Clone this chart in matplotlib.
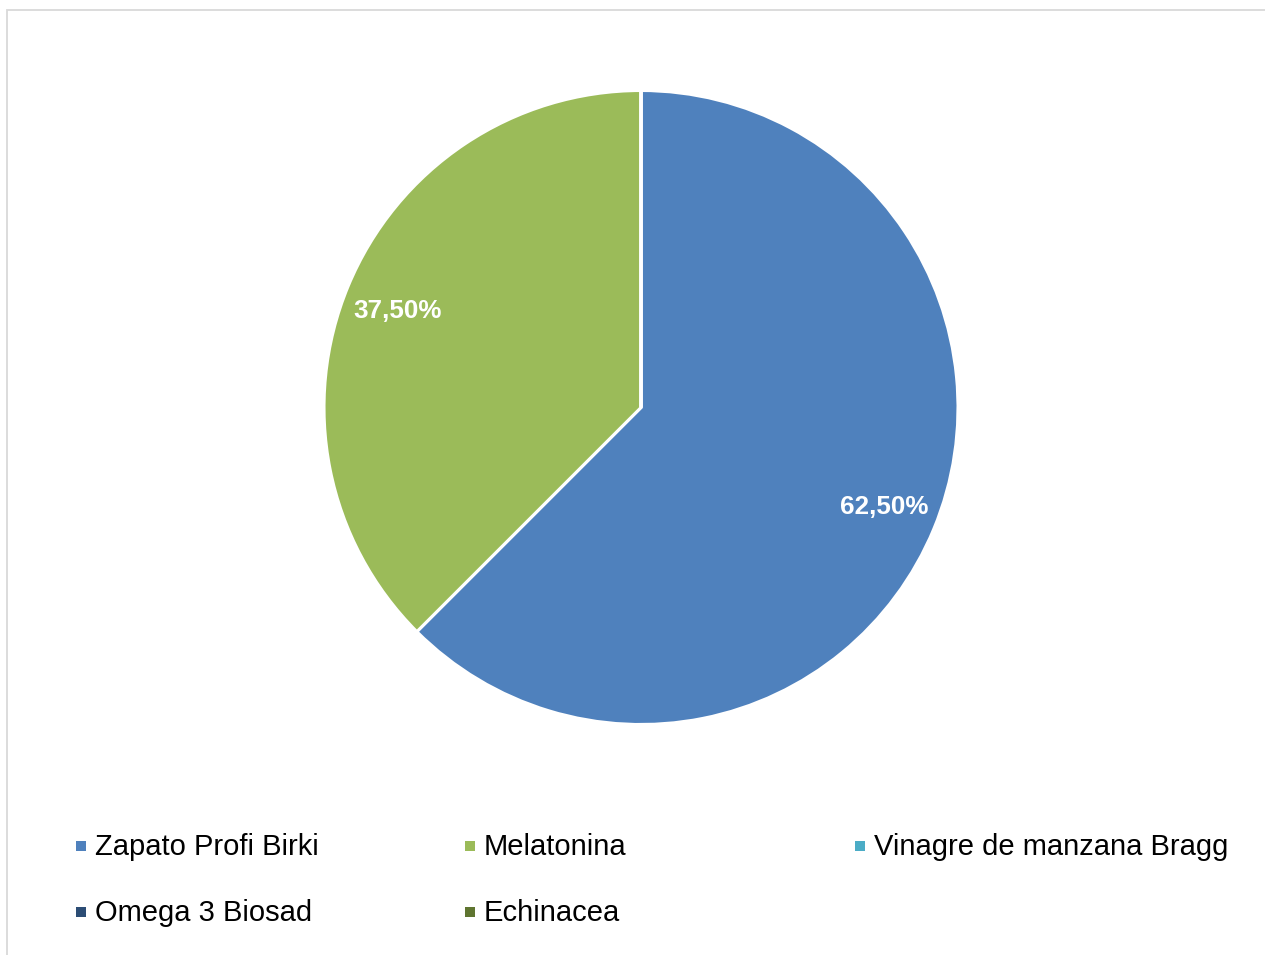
import matplotlib.pyplot as plt
from matplotlib.patches import Rectangle

plt.rcParams['font.family'] = ['Liberation Sans', 'DejaVu Sans']

# Shares per product (only two have a non-zero share)
labels = ['Zapato Profi Birki', 'Melatonina', 'Vinagre de manzana Bragg',
          'Omega 3 Biosad', 'Echinacea']
shares = [62.5, 37.5, 0.0, 0.0, 0.0]
colors = ['#4F81BD', '#9BBB59', '#4BACC6', '#2C4D75', '#5F7530']

W, H = 1265, 955
fig = plt.figure(figsize=(W / 100, H / 100), dpi=100)

# light frame around the chart area (open at right/bottom)
fig.patches.append(Rectangle((7.5 / W, -0.05), 1.1, 1 - 10.5 / H + 0.05,
                             transform=fig.transFigure, fill=False,
                             edgecolor='#D9D9D9', linewidth=1.3))

# pie: centre (641, 407), radius 317 px
cx, cy, r = 641, 407.5, 317
ax = fig.add_axes([(cx - r) / W, 1 - (cy + r) / H, 2 * r / W, 2 * r / H])


def fmt(p):
    return '' if p < 0.01 else f'{p:.2f}%'.replace('.', ',')


wedges, _, autotexts = ax.pie(
    shares, colors=colors, startangle=90, counterclock=False,
    autopct=fmt, pctdistance=0.83, radius=1,
    wedgeprops=dict(edgecolor='white', linewidth=2.2),
    textprops=dict(color='white', fontsize=18.7, fontweight='bold'))
autotexts[0].set_y(autotexts[0].get_position()[1] + 0.005)
autotexts[1].set_y(autotexts[1].get_position()[1] - 0.012)
ax.set_xlim(-1, 1)
ax.set_ylim(-1, 1)
ax.set_aspect('equal')
ax.axis('off')

# legend laid out in a 3-column grid
col_x = [76, 465, 855]
row_y = [846, 912]
for i, (lab, col) in enumerate(zip(labels, colors)):
    x = col_x[i % 3]
    y = row_y[i // 3]
    fig.patches.append(Rectangle((x / W, 1 - (y + 5) / H), 10 / W, 10 / H,
                                 transform=fig.transFigure,
                                 facecolor=col, edgecolor='none'))
    fig.text((x + 19) / W, 1 - (y + 1) / H, lab, fontsize=21,
             ha='left', va='center', color='black')

fig.savefig('out.png', dpi=100, facecolor='white')
